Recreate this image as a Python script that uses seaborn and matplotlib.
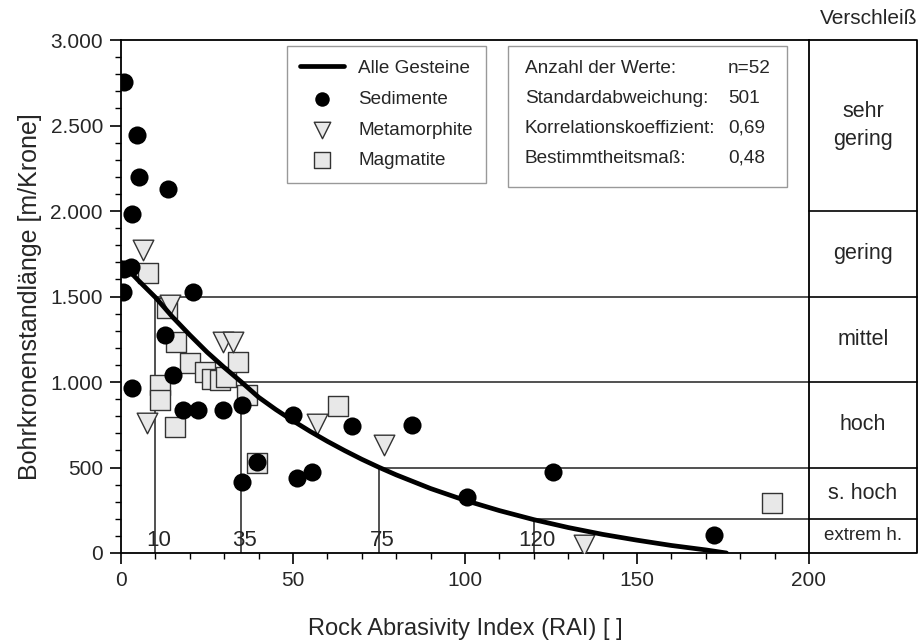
import numpy as np
import pandas as pd
import matplotlib
matplotlib.use("Agg")
import matplotlib.pyplot as plt
from matplotlib.patches import Rectangle
from matplotlib.ticker import FuncFormatter, MultipleLocator
import seaborn as sns

# Sedimente (filled circles)
sed_rai = [0.9, 4.6, 5.3, 13.8, 3.3, 0.8, 3.0, 0.5, 20.8, 12.8, 15.2, 3.1, 17.9,
           22.5, 29.7, 35.3, 50.1, 35.1, 39.6, 51.1, 55.4, 67.1, 84.7, 125.7, 100.5, 172.5]
sed_len = [2752, 2446, 2199, 2131, 1981, 1660, 1670, 1528, 1528, 1275, 1041, 963, 836,
           836, 836, 865, 807, 417, 530, 437, 476, 745, 749, 476, 326, 103]

# Metamorphite (triangles)
met_rai = [6.3, 14.2, 29.7, 32.5, 7.5, 56.9, 76.5, 134.7]
met_len = [1772, 1450, 1236, 1236, 758, 754, 632, 47]

# Magmatite (squares)
mag_rai = [7.9, 13.3, 16.0, 20.1, 11.3, 11.3, 15.7, 24.4, 26.4, 28.7, 30.5, 34.1,
           36.5, 39.4, 63.2, 189.2]
mag_len = [1635, 1431, 1236, 1109, 982, 895, 739, 1060, 1020, 1010, 1030, 1119,
           924, 524, 860, 294]

# fitted curve "Alle Gesteine"
fit_rai = [0, 5, 10, 15, 20, 25, 30, 35, 40, 45, 50, 55, 60, 65, 70, 75, 80, 90,
           100, 110, 120, 130, 140, 150, 160, 170, 176]
fit_len = [1700, 1595, 1495, 1380, 1275, 1175, 1085, 1000, 911, 839, 773, 711, 653,
           599, 548, 501, 457, 377, 308, 248, 195, 149, 109, 75, 44, 18, 0]

# wear classes
class_bounds = [3000, 2000, 1500, 1000, 500, 200, 0]
class_names = ["sehr\ngering", "gering", "mittel", "hoch", "s. hoch", "extrem h."]
limit_rai = [10, 35, 75, 120]
limit_len = [1500, 1000, 500, 200]

stats_names = ["Anzahl der Werte:", "Standardabweichung:", "Korrelationskoeffizient:",
               "Bestimmtheitsmaß:"]
stats_values = ["n=52", "501", "0,69", "0,48"]

sns.set_style("ticks")
plt.rcParams["font.family"] = ["Liberation Sans", "DejaVu Sans"]

fig = plt.figure(figsize=(9.2, 6.44), dpi=100)
ax = fig.add_axes([121 / 920, 1 - 553 / 644, 688 / 920, 513 / 644])

line_col = "#333333"
# class limit lines
for xr, yl in zip(limit_rai, limit_len):
    ax.plot([xr, xr], [0, yl], color=line_col, lw=1.2, zorder=1)
    ax.plot([xr, 200], [yl, yl], color=line_col, lw=1.2, zorder=1)
    ax.text(xr + 1, 42, str(xr), ha="center", va="baseline", fontsize=16, zorder=1)

mag = pd.DataFrame({"rai": mag_rai, "len": mag_len})
met = pd.DataFrame({"rai": met_rai, "len": met_len})
sed = pd.DataFrame({"rai": sed_rai, "len": sed_len})
fit = pd.DataFrame({"rai": fit_rai, "len": fit_len})

sns.scatterplot(data=mag, x="rai", y="len", marker="s", s=210, color="#e8e8e8",
                edgecolor="#333333", linewidth=1.0, label="Magmatite", ax=ax, zorder=3)
sns.scatterplot(data=met, x="rai", y="len", marker="v", s=220, color="#e8e8e8",
                edgecolor="#333333", linewidth=1.0, label="Metamorphite", ax=ax, zorder=4)
sns.scatterplot(data=sed, x="rai", y="len", marker="o", s=170, color="black",
                edgecolor="black", linewidth=0, label="Sedimente", ax=ax, zorder=5)
sns.lineplot(data=fit, x="rai", y="len", sort=False, estimator=None, color="black",
             lw=3.4, label="Alle Gesteine", ax=ax, zorder=6)

ax.set_xlim(0, 200)
ax.set_ylim(0, 3000)
ax.xaxis.set_major_locator(MultipleLocator(50))
ax.xaxis.set_minor_locator(MultipleLocator(10))
ax.yaxis.set_major_locator(MultipleLocator(500))
ax.yaxis.set_minor_locator(MultipleLocator(100))
ax.yaxis.set_major_formatter(FuncFormatter(lambda v, p: f"{int(v):,}".replace(",", ".")))
ax.tick_params(which="major", length=8, width=1.2, labelsize=15, color="black", pad=5)
ax.tick_params(which="minor", length=4, width=1.0, color="black")
for sp in ax.spines.values():
    sp.set_linewidth(1.3)
    sp.set_color("black")
ax.set_xlabel("Rock Abrasivity Index (RAI) [ ]", fontsize=17, labelpad=20)
ax.set_ylabel("Bohrkronenstandlänge [m/Krone]", fontsize=18, labelpad=6)

# wear class table on the right
x_end = 231.4
ax.plot([200, x_end, x_end, 200], [3000, 3000, 0, 0], color="black", lw=1.3,
        clip_on=False, zorder=2)
for b in class_bounds[1:-1]:
    ax.plot([200, x_end], [b, b], color="black", lw=1.2, clip_on=False, zorder=2)
for i, name in enumerate(class_names):
    mid = (class_bounds[i] + class_bounds[i + 1]) / 2
    fs = 13.5 if name == "extrem h." else 15.5
    ax.text((200 + x_end) / 2, mid, name, ha="center", va="center", fontsize=fs,
            linespacing=1.45, clip_on=False)
ax.text(x_end, 3070, "Verschleiß", ha="right", va="bottom", fontsize=15)

# legend
handles, labels = ax.get_legend_handles_labels()
order = [labels.index(n) for n in ["Alle Gesteine", "Sedimente", "Metamorphite", "Magmatite"]]
leg = ax.legend([handles[i] for i in order], [labels[i] for i in order],
                loc="upper left", bbox_to_anchor=(0.241, 0.988), fontsize=13.6,
                frameon=True, fancybox=False, edgecolor="#999999", framealpha=1,
                labelspacing=0.72, handlelength=2.3, borderpad=0.72, handletextpad=0.75,
                markerscale=0.8, borderaxespad=0)
leg.get_frame().set_linewidth(1.0)

# statistics box
ax.add_patch(Rectangle((0.5625, 0.713), 0.4055, 0.275, transform=ax.transAxes,
                       facecolor="white", edgecolor="#999999", lw=1.0, zorder=7))
for i, (n, v) in enumerate(zip(stats_names, stats_values)):
    yy = 0.945 - i * 0.0585
    ax.text(0.587, yy, n, transform=ax.transAxes, fontsize=13.7, va="center", zorder=8)
    ax.text(0.882, yy, v, transform=ax.transAxes, fontsize=13.7, va="center", zorder=8)

fig.savefig("out.png", dpi=100)
